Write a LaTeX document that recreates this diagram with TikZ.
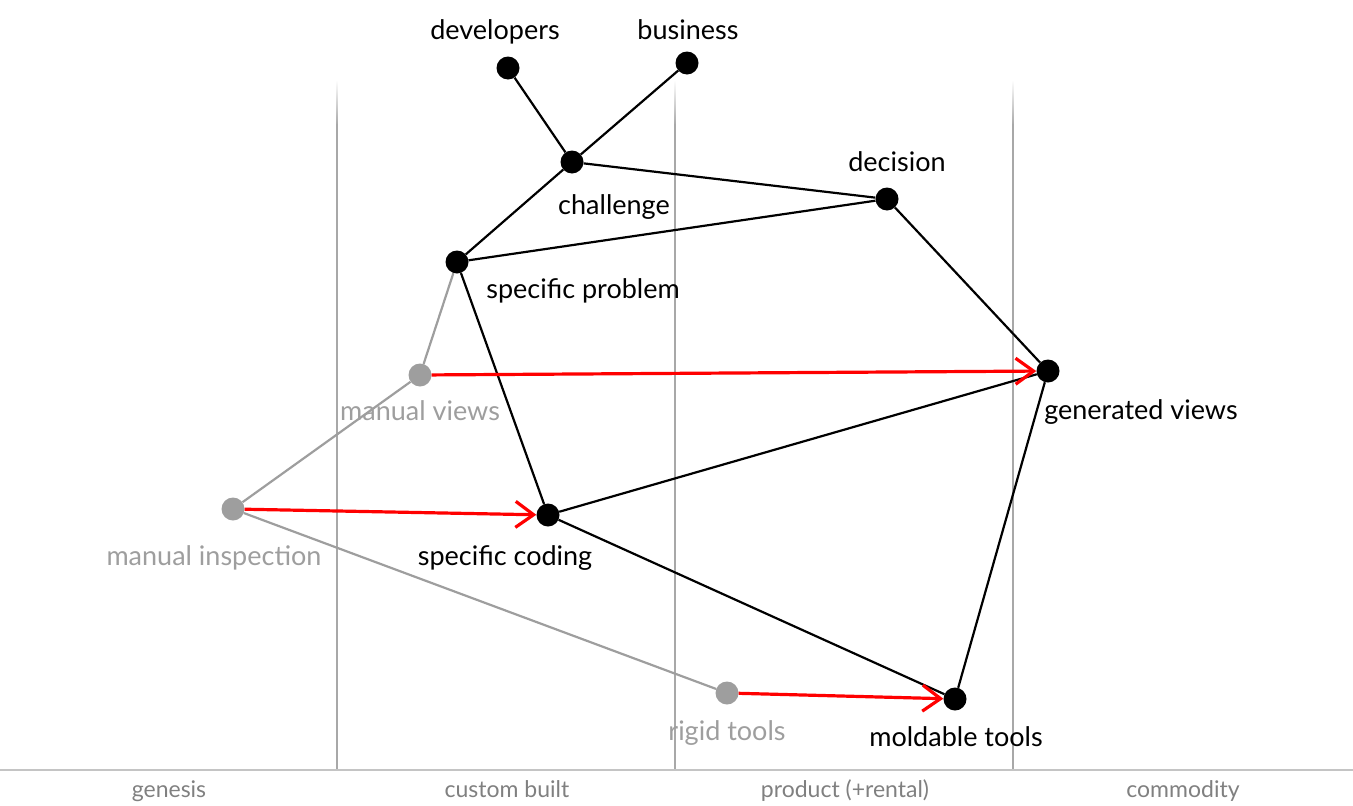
\documentclass[tikz,border=0pt]{standalone}
\usepackage{fontspec}
\setmainfont{Lato}
\usetikzlibrary{positioning,arrows.meta}
\definecolor{fadegray}{HTML}{9E9E9E}
\definecolor{stagegray}{HTML}{A8A8A8}
\definecolor{axisgray}{HTML}{C4C4C4}
\definecolor{evored}{HTML}{FF0000}
\tikzstyle{comp} = [circle, draw=none, fill=black, inner sep=0pt, minimum size=23pt]
\tikzstyle{oldcomp} = [circle, draw=none, fill=fadegray, inner sep=0pt, minimum size=23pt]
\tikzstyle{compname} = [text=black, font=\fontsize{27}{32}\selectfont, inner sep=0pt, anchor=base]
\tikzstyle{oldname} = [text=fadegray, font=\fontsize{27}{32}\selectfont, inner sep=0pt, anchor=base]
\tikzstyle{stagename} = [text=gray, font=\fontsize{23}{27}\selectfont, inner sep=0pt, anchor=base]
\begin{document}
\begin{tikzpicture}[x=1pt, y=-1pt,
  link/.style={draw=black, line width=2.2pt},
  oldlink/.style={draw=fadegray, line width=2.2pt},
  evolve/.style={draw=evored, line width=3.2pt, -{Straight Barb[length=18pt,width=26pt]}}]
  \useasboundingbox (0,0) rectangle (1353,806);
  % draw stage dividers and axis
  \foreach \x in {337,675,1013} {
    \shade[top color=white, bottom color=stagegray] (\x-0.9,80) rectangle (\x+0.9,125);
    \draw[stagegray, line width=1.8pt] (\x,124) -- (\x,770);
  }
  \draw[axisgray, line width=2pt] (0,770) -- (1353,770);
  \foreach \t [count=\i from 0] in {genesis,custom built,product (+rental),commodity}
    \node[stagename] (st\i) at (169+338*\i, 797) {\t};
  % draw components
  \node[comp] (dev) at (508,68) {};
  \node[comp] (bus) at (687,63) {};
  \node[comp] (chal) at (572,162) {};
  \node[comp] (dec) at (887,199) {};
  \node[comp] (prob) at (457,262) {};
  \node[oldcomp] (mview) at (420,375) {};
  \node[comp] (gview) at (1048,371) {};
  \node[oldcomp] (minsp) at (233,509) {};
  \node[comp] (scode) at (548,515) {};
  \node[oldcomp] (rtool) at (727,693) {};
  \node[comp] (mtool) at (955,699) {};
  % draw component names
  \node[compname] (ldev) at (495,39) {developers};
  \node[compname] (lbus) at (688,39) {business};
  \node[compname] (lchal) at (614,214) {challenge};
  \node[compname] (ldec) at (897,171) {decision};
  \node[compname] (lprob) at (583,298) {specific problem};
  \node[oldname] (lmview) at (420,420) {manual views};
  \node[compname] (lgview) at (1141,419) {generated views};
  \node[oldname] (lminsp) at (214,565) {manual inspection};
  \node[compname] (lscode) at (505,565) {specific coding};
  \node[oldname] (lrtool) at (727,740) {rigid tools};
  \node[compname] (lmtool) at (956,746) {moldable tools};
  % draw old links
  \foreach \a/\b in {prob/mview,mview/minsp,minsp/rtool}
    \draw[oldlink] (\a) -- (\b);
  % draw value chain links
  \foreach \a/\b in {dev/chal,bus/chal,chal/prob,chal/dec,prob/dec,dec/gview,
                     prob/scode,scode/gview,scode/mtool,mtool/gview}
    \draw[link] (\a) -- (\b);
  % draw evolution arrows
  \draw[evolve] (mview) -- (gview);
  \draw[evolve] (minsp) -- (scode);
  \draw[evolve] (rtool) -- (mtool);
\end{tikzpicture}
\end{document}
